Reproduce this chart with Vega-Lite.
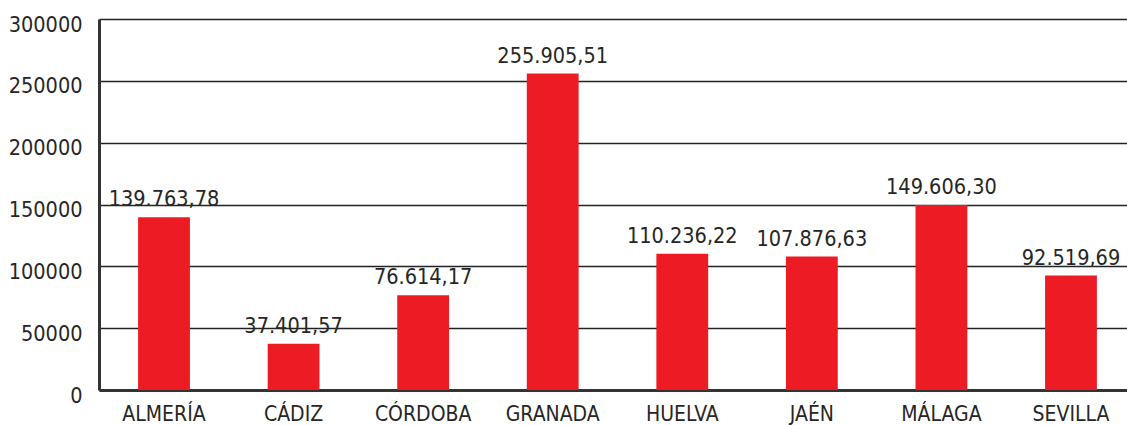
{
  "$schema": "https://vega.github.io/schema/vega-lite/v6.json",
  "autosize": "none",
  "width": 1028,
  "height": 371,
  "padding": {"left": 99, "top": 19, "right": 0, "bottom": 35},
  "background": "white",
  "config": {
    "view": {"stroke": null},
    "font": "DejaVu Sans Condensed"
  },
  "data": {
    "values": [
      {"provincia": "ALMERÍA", "valor": 139763.78, "etiqueta": "139.763,78"},
      {"provincia": "CÁDIZ", "valor": 37401.57, "etiqueta": "37.401,57"},
      {"provincia": "CÓRDOBA", "valor": 76614.17, "etiqueta": "76.614,17"},
      {"provincia": "GRANADA", "valor": 255905.51, "etiqueta": "255.905,51"},
      {"provincia": "HUELVA", "valor": 110236.22, "etiqueta": "110.236,22"},
      {"provincia": "JAÉN", "valor": 107876.63, "etiqueta": "107.876,63"},
      {"provincia": "MÁLAGA", "valor": 149606.30, "etiqueta": "149.606,30"},
      {"provincia": "SEVILLA", "valor": 92519.69, "etiqueta": "92.519,69"}
    ]
  },
  "encoding": {
    "x": {
      "field": "provincia",
      "type": "nominal",
      "sort": null,
      "scale": {"paddingInner": 0.6, "paddingOuter": 0.267, "align": 0.565},
      "axis": {
        "title": null,
        "labelAngle": 0,
        "labelFont": "DejaVu Sans Condensed",
        "labelFontSize": 21,
        "labelColor": "#262626",
        "labelPadding": 13,
        "ticks": false,
        "domainColor": "#333333",
        "domainWidth": 3,
        "grid": false
      }
    },
    "y": {
      "field": "valor",
      "type": "quantitative",
      "scale": {"domain": [0, 300000], "nice": false},
      "axis": {
        "title": null,
        "values": [0, 50000, 100000, 150000, 200000, 250000, 300000],
        "format": "d",
        "labelFont": "DejaVu Sans Condensed",
        "labelFontSize": 21.5,
        "labelColor": "#262626",
        "labelPadding": 17,
        "labelOffset": 6,
        "ticks": false,
        "domainColor": "#333333",
        "domainWidth": 3,
        "grid": true,
        "gridColor": "#222222",
        "gridWidth": 1.3
      }
    }
  },
  "layer": [
    {
      "mark": {"type": "bar", "color": "#ED1C24"}
    },
    {
      "mark": {
        "type": "text",
        "baseline": "alphabetic",
        "dy": -11,
        "fontSize": 21.5,
        "font": "DejaVu Sans Condensed",
        "color": "#262626"
      },
      "encoding": {"text": {"field": "etiqueta"}}
    }
  ]
}
